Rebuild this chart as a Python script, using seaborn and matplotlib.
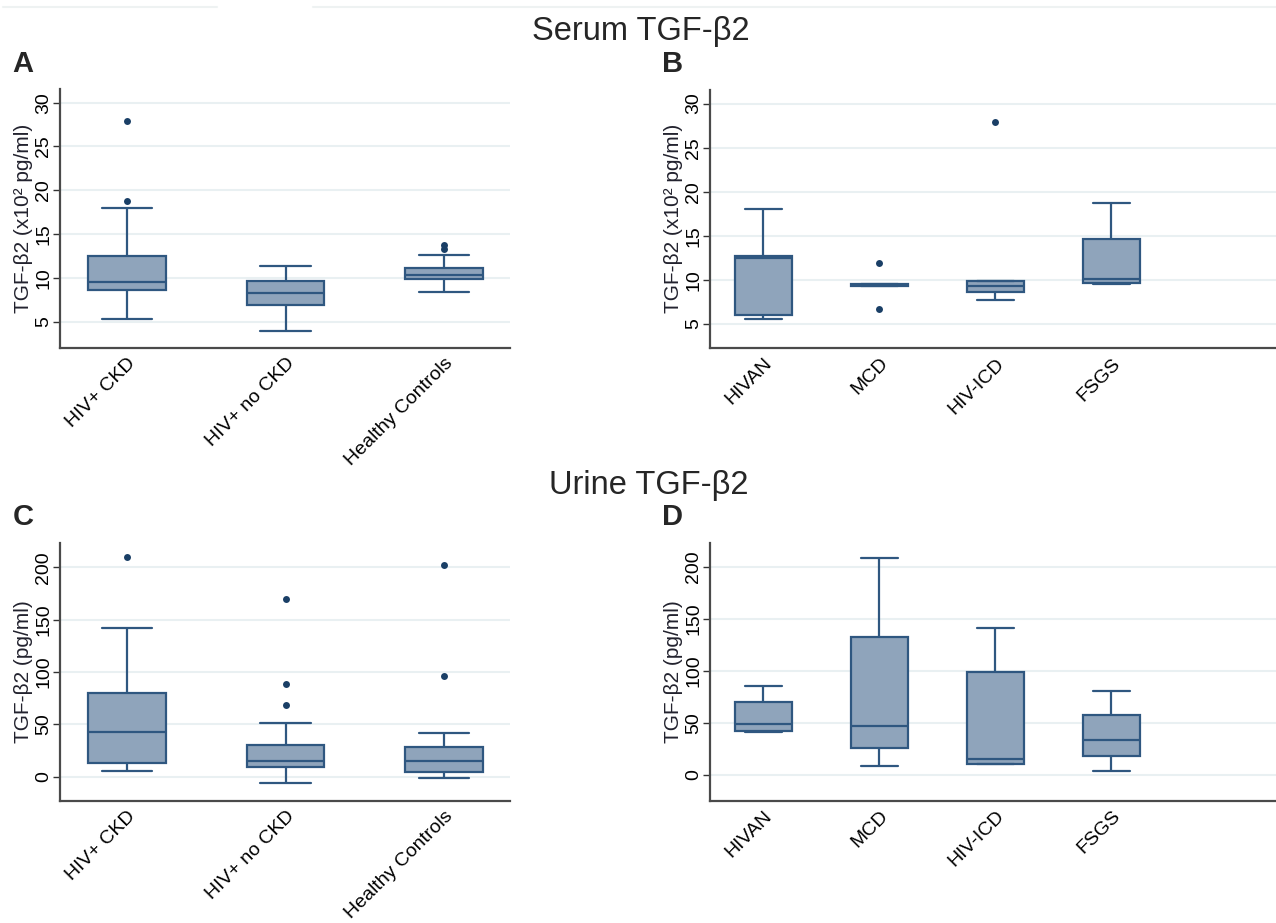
import pandas as pd
import matplotlib.pyplot as plt
from matplotlib.lines import Line2D
import seaborn as sns

# groups on the x axis
groups_cohort = ['HIV+ CKD', 'HIV+ no CKD', 'Healthy Controls']
groups_histo = ['HIVAN', 'MCD', 'HIV-ICD', 'FSGS']

# box summaries: [lower whisker, q1, median, q3, upper whisker]
serum_cohort = [[5.3, 8.6, 9.55, 12.45, 18.0],
                [3.9, 6.85, 8.25, 9.65, 11.35],
                [8.4, 9.9, 10.3, 11.15, 12.6]]
serum_cohort_out = [[27.9, 18.8], [], [13.8, 13.25]]

serum_histo = [[5.5, 5.95, 12.45, 12.75, 18.0],
               [9.33, 9.33, 9.4, 9.47, 9.47],
               [7.7, 8.55, 9.3, 9.85, 9.85],
               [9.5, 9.65, 10.05, 14.6, 18.75]]
serum_histo_out = [[], [11.9, 6.7], [27.9], []]

urine_cohort = [[5.7, 13.4, 42.3, 80.1, 142.1],
                [-6.0, 8.9, 14.9, 29.9, 51.2],
                [-1.6, 4.1, 14.9, 28.6, 42.0]]
urine_cohort_out = [[209.5], [170.1, 88.1, 68.4], [201.9, 95.7]]

urine_histo = [[41.0, 42.3, 48.7, 69.9, 85.3],
               [9.0, 26.0, 47.4, 132.7, 209.0],
               [10.3, 10.6, 15.1, 99.0, 141.7],
               [4.2, 18.3, 33.3, 57.7, 80.8]]
urine_histo_out = [[], [], [], []]

serum_ticks = [5, 10, 15, 20, 25, 30]
urine_ticks = [0, 50, 100, 150, 200]

FILL = '#8fa4bb'
LINE = '#2f5780'
DOT = '#1a3f66'

sns.set_theme(style='white')
plt.rcParams['font.family'] = ['Liberation Sans', 'DejaVu Sans']


def long_df(groups, values):
    rows = [(g, v) for g, vals in zip(groups, values) for v in vals]
    return pd.DataFrame(rows, columns=['group', 'value'])


def panel(ax, groups, boxes, outs, ylim, yticks, xlim, ylabel):
    sns.boxplot(data=long_df(groups, boxes), x='group', y='value', order=groups,
                whis=(0, 100), width=0.49, color=FILL, saturation=1,
                linecolor=LINE, linewidth=1.6, capwidths=0.32, ax=ax)
    out = long_df(groups, outs)
    if len(out):
        sns.stripplot(data=out, x='group', y='value', order=groups, jitter=False,
                      color=DOT, size=5, ax=ax)
    ax.set_xlim(xlim)
    ax.set_ylim(ylim)
    ax.set_yticks(yticks)
    ax.set_xlabel('')
    ax.set_ylabel(ylabel, fontsize=15, color='#22222e', labelpad=2)
    ax.yaxis.grid(True, color='#e9f0f2', linewidth=1.5)
    ax.set_axisbelow(True)
    for side in ['top', 'right']:
        ax.spines[side].set_visible(False)
    for side in ['left', 'bottom']:
        ax.spines[side].set_color('#4a4a4a')
        ax.spines[side].set_linewidth(1.6)
    ax.tick_params(axis='y', left=True, length=5, width=1, color='#333333',
                   labelsize=14, pad=0.5, labelcolor='black')
    ax.tick_params(axis='x', length=0, labelsize=14, pad=5, labelcolor='black')
    plt.setp(ax.get_yticklabels(), rotation=90, va='center')
    plt.setp(ax.get_xticklabels(), rotation=45, ha='right', va='top',
             rotation_mode='anchor')


fig = plt.figure(figsize=(12.76, 9.23), dpi=100)
ax_a = fig.add_axes([0.047, 0.623, 0.353, 0.281])
ax_b = fig.add_axes([0.5564, 0.623, 0.4436, 0.280])
ax_c = fig.add_axes([0.047, 0.1325, 0.353, 0.279])
ax_d = fig.add_axes([0.5564, 0.1325, 0.4436, 0.279])

serum_label = 'TGF-β2 (x10² pg/ml)'
urine_label = 'TGF-β2 (pg/ml)'
panel(ax_a, groups_cohort, serum_cohort, serum_cohort_out, (2.0, 31.6),
      serum_ticks, (-0.424, 2.42), serum_label)
panel(ax_b, groups_histo, serum_histo, serum_histo_out, (2.25, 31.6),
      serum_ticks, (-0.46, 4.42), serum_label)
panel(ax_c, groups_cohort, urine_cohort, urine_cohort_out, (-23, 223),
      urine_ticks, (-0.424, 2.42), urine_label)
panel(ax_d, groups_histo, urine_histo, urine_histo_out, (-24.7, 223),
      urine_ticks, (-0.46, 4.42), urine_label)

fig.text(0.5025, 0.966, 'Serum TGF-β2', ha='center', va='center', fontsize=23.5)
fig.text(0.5086, 0.4745, 'Urine TGF-β2', ha='center', va='center', fontsize=23.5)
for x, y, letter in [(0.010, 0.931, 'A'), (0.519, 0.931, 'B'),
                     (0.010, 0.440, 'C'), (0.519, 0.440, 'D')]:
    fig.text(x, y, letter, ha='left', va='center', fontsize=21, fontweight='bold')

# faint rule along the top edge
fig.add_artist(Line2D([0.002, 0.170], [0.9925, 0.9925], color='#eef2f2', lw=1.5))
fig.add_artist(Line2D([0.245, 1.0], [0.9925, 0.9925], color='#eef2f2', lw=1.5))

fig.savefig('out.png', dpi=100)
